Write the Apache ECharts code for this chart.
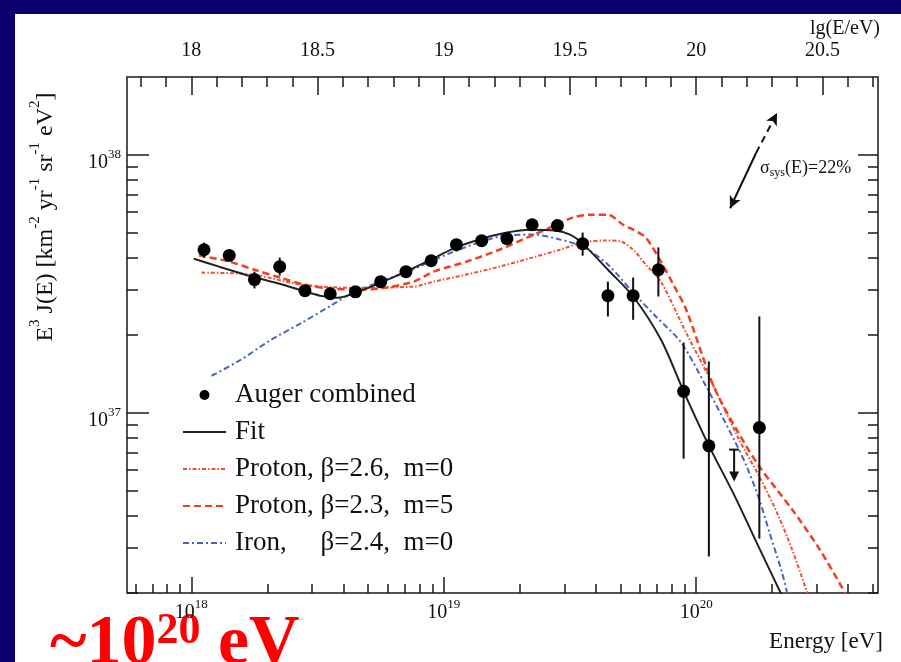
<!DOCTYPE html>
<html>
<head>
<meta charset="utf-8">
<title>Auger energy spectrum</title>
<script src="https://cdn.jsdelivr.net/npm/echarts@6.0.0/dist/echarts.min.js"></script>
<style>
  html, body { margin: 0; padding: 0; background: #0c006e; }
  #paper { position: absolute; left: 15px; top: 14px; width: 886px; height: 648px; background: #fff; }
  #main { position: absolute; left: 0; top: 0; width: 901px; height: 662px; }
</style>
</head>
<body>
<div id="paper"></div>
<div id="main"></div>
<script>
// ---- data (energies as lg(E/eV), fluxes as E^3 J(E)) ----
const augerLgE = [18.05, 18.15, 18.25, 18.35, 18.45, 18.55, 18.65, 18.75, 18.85, 18.95, 19.05,
  19.15, 19.25, 19.35, 19.45, 19.55, 19.65, 19.75, 19.85, 19.95, 20.05, 20.25]
const augerFlux = [4.28e37, 4.07e37, 3.28e37, 3.68e37, 2.97e37, 2.89e37, 2.94e37, 3.22e37, 3.52e37, 3.88e37, 4.48e37,
  4.64e37, 4.73e37, 5.35e37, 5.31e37, 4.52e37, 2.84e37, 2.84e37, 3.58e37, 1.21e37, 7.44e36, 8.75e36]
const augerLo = [3.99e37, 3.88e37, 3.03e37, 3.40e37, null, null, null, null, null, null, null,
  null, null, null, null, 4.06e37, 2.36e37, 2.29e37, 2.82e37, 6.63e36, 2.77e36, 3.25e36]
const augerHi = [4.56e37, 4.25e37, 3.52e37, 3.99e37, null, null, null, null, null, null, null,
  null, null, null, null, 4.99e37, 3.22e37, 3.34e37, 4.37e37, 1.87e37, 1.58e37, 2.36e37]
const limitLgE = [20.15]
const limitFlux = [7.19e36]

const fitLgE = [18.01, 18.11, 18.24, 18.35, 18.44, 18.51, 18.58, 18.64, 18.75, 18.85, 18.94, 19.04, 19.14,
  19.25, 19.34, 19.44, 19.50, 19.55, 19.65, 19.75, 19.86, 19.95, 20.05, 20.15, 20.25, 20.34]
const fitFlux = [3.95e37, 3.68e37, 3.37e37, 3.16e37, 2.97e37, 2.84e37, 2.79e37, 2.89e37, 3.19e37, 3.52e37, 3.88e37, 4.33e37, 4.69e37,
  4.99e37, 5.12e37, 5.08e37, 4.90e37, 4.52e37, 3.58e37, 2.82e37, 1.92e37, 1.21e37, 7.45e36, 4.8e36, 2.98e36, 1.95e36]

const p26LgE = [18.04, 18.24, 18.44, 18.64, 18.88, 18.96, 19.09, 19.22, 19.35, 19.46, 19.55, 19.64,
  19.70, 19.75, 19.80, 19.86, 19.96, 20.07, 20.17, 20.25, 20.32, 20.38, 20.44]
const p26Flux = [3.49e37, 3.43e37, 3.13e37, 3.05e37, 3.08e37, 3.22e37, 3.43e37, 3.68e37, 3.99e37, 4.28e37, 4.56e37, 4.65e37,
  4.61e37, 4.28e37, 3.75e37, 3.22e37, 2.04e37, 1.26e37, 7.85e36, 5.65e36, 4.09e36, 2.94e36, 2.0e36]

const p23LgE = [18.03, 18.15, 18.25, 18.35, 18.45, 18.55, 18.65, 18.75, 18.88, 18.96, 19.09, 19.22, 19.33, 19.42,
  19.51, 19.58, 19.65, 19.71, 19.75, 19.80, 19.86, 19.91, 19.96, 20.07, 20.16, 20.25, 20.38, 20.49, 20.59]
const p23Flux = [4.07e37, 3.85e37, 3.58e37, 3.34e37, 3.13e37, 3.03e37, 3.00e37, 3.03e37, 3.22e37, 3.52e37, 3.85e37, 4.28e37, 4.77e37, 5.21e37,
  5.70e37, 5.85e37, 5.85e37, 5.35e37, 5.12e37, 4.77e37, 3.85e37, 3.13e37, 2.51e37, 1.26e37, 8.59e36, 6.18e36, 4.21e36, 2.94e36, 2.0e36]

const ironLgE = [18.08, 18.19, 18.31, 18.43, 18.55, 18.64, 18.75, 18.88, 19.04, 19.22, 19.35, 19.46,
  19.55, 19.65, 19.75, 19.84, 19.94, 20.04, 20.15, 20.20, 20.25, 20.29, 20.34, 20.36]
const ironFlux = [1.39e37, 1.59e37, 1.90e37, 2.21e37, 2.59e37, 2.92e37, 3.22e37, 3.60e37, 4.21e37, 4.81e37, 4.90e37, 4.69e37,
  4.40e37, 3.75e37, 2.92e37, 2.36e37, 1.87e37, 1.26e37, 7.85e36, 6.18e36, 4.60e36, 3.43e36, 2.40e36, 2.0e36]

const bottomLabels = [18, 19, 20]
const topLabels = [18, 18.5, 19, 19.5, 20, 20.5]
const leftLabels = [37, 38]

const NAME_P26 = 'Proton, β=2.6,  m=0'
const NAME_P23 = 'Proton, β=2.3,  m=5'
const NAME_FE = 'Iron,     β=2.4,  m=0'

// ---- helpers ----
const SERIF = 'Liberation Serif'
const X_MIN = 17.745
const X_MAX = 20.72
const Y_MIN = 36.301
const Y_MAX = 38.301

function lg(v) {
  return Math.log10(v)
}
function pairs(xs, ys) {
  return xs.map((x, i) => [x, lg(ys[i])])
}
// 2..9 x 10^n positions of a log axis
function decadeMinors(n0, n1) {
  const out = []
  for (let n = n0; n <= n1; n++) {
    for (let k = 2; k <= 9; k++) out.push(n + Math.log10(k))
  }
  return out
}
function tenthMinors(from, to) {
  const out = []
  for (let i = from; i <= to; i++) out.push(i / 10)
  return out
}

const tickLine = { color: '#1a1a1a', width: 1.5 }
const powRich = {
  b: { fontFamily: SERIF, fontSize: 20, lineHeight: 25, verticalAlign: 'bottom', color: '#111' },
  s: { fontFamily: SERIF, fontSize: 13, lineHeight: 13, verticalAlign: 'top', color: '#111' }
}

function tickAxis(pos, min, max, values, len, label) {
  return {
    type: 'value',
    position: pos,
    min: min,
    max: max,
    axisLine: { show: false, onZero: false },
    splitLine: { show: false },
    axisTick: { show: true, inside: true, length: len, lineStyle: tickLine, customValues: values },
    axisLabel: label || { show: false }
  }
}

const hiddenSymbol = { opacity: 0 }

const chart = echarts.init(document.getElementById('main'))

chart.setOption({
  backgroundColor: 'transparent',
  animation: false,
  grid: {
    left: 127,
    right: 23,
    top: 77,
    bottom: 69,
    show: true,
    borderColor: '#1a1a1a',
    borderWidth: 1.5,
    backgroundColor: 'transparent'
  },
  xAxis: [
    tickAxis('bottom', X_MIN, X_MAX, bottomLabels, 16, {
      customValues: bottomLabels,
      margin: 5,
      formatter: v => '{b|10}{s|' + v + '}',
      rich: powRich
    }),
    tickAxis('bottom', X_MIN, X_MAX, decadeMinors(17, 20), 9),
    tickAxis('top', X_MIN, X_MAX, topLabels, 18, {
      customValues: topLabels,
      margin: 16,
      fontFamily: SERIF,
      fontSize: 20,
      color: '#111',
      formatter: v => String(v)
    }),
    tickAxis('top', X_MIN, X_MAX, tenthMinors(178, 207), 10)
  ],
  yAxis: [
    tickAxis('left', Y_MIN, Y_MAX, leftLabels, 22, {
      customValues: leftLabels,
      margin: 6,
      padding: [12, 0, 0, 0],
      formatter: v => '{b|10}{s|' + v + '}',
      rich: powRich
    }),
    tickAxis('left', Y_MIN, Y_MAX, decadeMinors(36, 38), 11),
    tickAxis('right', Y_MIN, Y_MAX, leftLabels, 20),
    tickAxis('right', Y_MIN, Y_MAX, decadeMinors(36, 38), 10)
  ],
  legend: {
    orient: 'vertical',
    left: 182,
    top: 381,
    padding: 0,
    itemGap: 9,
    itemWidth: 43,
    itemHeight: 10,
    selectedMode: false,
    data: [
      { name: 'Auger combined', icon: 'circle', itemStyle: { color: '#000', opacity: 1 } },
      { name: 'Fit', itemStyle: hiddenSymbol },
      { name: NAME_P26, itemStyle: hiddenSymbol },
      { name: NAME_P23, itemStyle: hiddenSymbol },
      { name: NAME_FE, itemStyle: hiddenSymbol }
    ],
    textStyle: { fontFamily: SERIF, fontSize: 27, lineHeight: 28, color: '#111', padding: [0, 0, 0, 4] }
  },
  graphic: [
    {
      type: 'text', right: 21, top: 19,
      style: { text: 'lg(E/eV)', font: '20px "Liberation Serif"', fill: '#111' }
    },
    {
      type: 'text', right: 18, top: 630,
      style: { text: 'Energy [eV]', font: '23px "Liberation Serif"', fill: '#111' }
    },
    {
      type: 'text', x: 43, y: 217, rotation: Math.PI / 2,
      style: {
        text: '{t|E}{u|3}{t| J(E) [km}{u|-2}{t| yr}{u|-1}{t| sr}{u|-1}{t| eV}{u|2}{t|]}',
        align: 'center',
        verticalAlign: 'middle',
        fill: '#111',
        rich: {
          t: { fontFamily: SERIF, fontSize: 24, lineHeight: 30, verticalAlign: 'bottom', fill: '#111' },
          u: { fontFamily: SERIF, fontSize: 15, lineHeight: 15, verticalAlign: 'top', fill: '#111' }
        }
      }
    },
    {
      type: 'text', left: 760, top: 159,
      style: {
        text: '{a|σ}{b|sys}{a|(E)=22%}',
        fill: '#111',
        rich: {
          a: { fontFamily: SERIF, fontSize: 18, lineHeight: 20, verticalAlign: 'top', fill: '#111' },
          b: { fontFamily: SERIF, fontSize: 12, lineHeight: 12, verticalAlign: 'bottom', fill: '#111' }
        }
      }
    },
    {
      type: 'text', left: 50, top: 610,
      style: {
        text: '{b|~10}{s|20}{b| eV}',
        fill: '#ff0000',
        rich: {
          b: { fontFamily: SERIF, fontWeight: 'bold', fontSize: 70, lineHeight: 70, verticalAlign: 'bottom', fill: '#ff0000' },
          s: { fontFamily: SERIF, fontWeight: 'bold', fontSize: 44, lineHeight: 44, verticalAlign: 'top', fill: '#ff0000' }
        }
      }
    }
  ],
  series: [
    {
      name: NAME_FE,
      type: 'line',
      data: pairs(ironLgE, ironFlux),
      symbol: 'none',
      smooth: 0.3,
      lineStyle: { color: '#4b62c8', width: 2, type: [6, 3, 2, 3] },
      itemStyle: { color: '#4b62c8' },
      z: 2
    },
    {
      name: NAME_P26,
      type: 'line',
      data: pairs(p26LgE, p26Flux),
      symbol: 'none',
      smooth: 0.3,
      lineStyle: { color: '#f4502e', width: 2, type: [4, 2, 1.5, 2] },
      itemStyle: { color: '#f4502e' },
      z: 2
    },
    {
      name: NAME_P23,
      type: 'line',
      data: pairs(p23LgE, p23Flux),
      symbol: 'none',
      smooth: 0.3,
      lineStyle: { color: '#f0401e', width: 2.5, type: [7, 4] },
      itemStyle: { color: '#f0401e' },
      z: 2
    },
    {
      name: 'Fit',
      type: 'line',
      data: pairs(fitLgE, fitFlux),
      symbol: 'none',
      smooth: 0.3,
      lineStyle: { color: '#222', width: 2 },
      itemStyle: { color: '#222' },
      z: 3
    },
    {
      name: 'errors',
      type: 'custom',
      data: augerLgE.map((e, i) => augerLo[i] == null ? null : [e, lg(augerLo[i]), lg(augerHi[i])]).filter(d => d),
      encode: { x: 0, y: [1, 2] },
      renderItem(params, api) {
        const a = api.coord([api.value(0), api.value(1)])
        const b = api.coord([api.value(0), api.value(2)])
        return {
          type: 'line',
          shape: { x1: a[0], y1: a[1], x2: b[0], y2: b[1] },
          style: { stroke: '#111', lineWidth: 2 }
        }
      },
      z: 4
    },
    {
      name: 'upper limit',
      type: 'custom',
      data: pairs(limitLgE, limitFlux),
      renderItem(params, api) {
        const p = api.coord([api.value(0), api.value(1)])
        return {
          type: 'group',
          children: [
            { type: 'line', shape: { x1: p[0] - 5, y1: p[1], x2: p[0] + 5, y2: p[1] }, style: { stroke: '#111', lineWidth: 2 } },
            { type: 'line', shape: { x1: p[0], y1: p[1], x2: p[0], y2: p[1] + 24 }, style: { stroke: '#111', lineWidth: 2 } },
            { type: 'polygon', shape: { points: [[p[0] - 5, p[1] + 22], [p[0] + 5, p[1] + 22], [p[0], p[1] + 32]] }, style: { fill: '#111' } }
          ]
        }
      },
      z: 4
    },
    {
      name: 'Auger combined',
      type: 'scatter',
      data: pairs(augerLgE, augerFlux),
      symbol: 'circle',
      symbolSize: 13,
      itemStyle: { color: '#000', opacity: 1 },
      z: 5
    },
    {
      name: 'sys',
      type: 'line',
      data: [],
      markLine: {
        silent: true,
        animation: false,
        label: { show: false },
        symbolSize: [9, 12],
        lineStyle: { color: '#111', width: 2 },
        data: [
          [
            { coord: [20.134, lg(6.2e37)], symbol: 'arrow', lineStyle: { type: 'solid', color: '#111', width: 2 } },
            { coord: [20.237, lg(1.015e38)], symbol: 'none' }
          ],
          [
            { coord: [20.237, lg(1.015e38)], symbol: 'none', lineStyle: { type: [7, 5], color: '#111', width: 2 } },
            { coord: [20.320, lg(1.45e38)], symbol: 'arrow' }
          ]
        ]
      }
    }
  ]
})
</script>
</body>
</html>
